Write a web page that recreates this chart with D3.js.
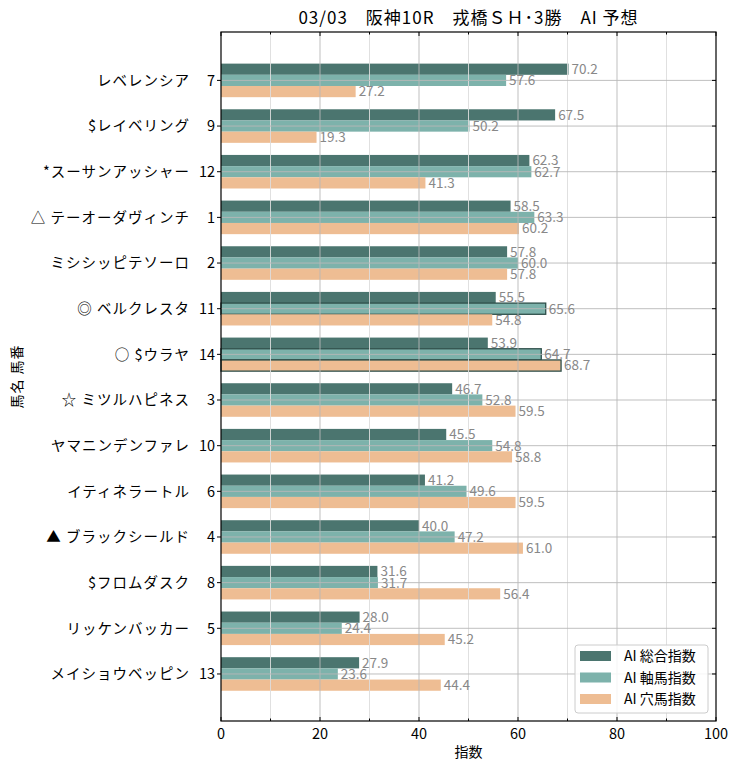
<!DOCTYPE html>
<html><head><meta charset="utf-8">
<script src="https://cdn.jsdelivr.net/npm/d3@7"></script>
<style>body{margin:0;background:#fff}</style>
</head><body>
<script>
const names = ["レベレンシア","$レイベリング","*スーサンアッシャー","△ テーオーダヴィンチ","ミシシッピテソーロ","◎ ベルクレスタ","○ $ウラヤ","☆ ミツルハピネス","ヤマニンデンファレ","イティネラートル","▲ ブラックシールド","$フロムダスク","リッケンバッカー","メイショウベッピン"];
const numbers = ["7","9","12","1","2","11","14","3","10","6","4","8","5","13"];
const sogo = [70.2,67.5,62.3,58.5,57.8,55.5,53.9,46.7,45.5,41.2,40.0,31.6,28.0,27.9];
const jiku = [57.6,50.2,62.7,63.3,60.0,65.6,64.7,52.8,54.8,49.6,47.2,31.7,24.4,23.6];
const ana  = [27.2,19.3,41.3,60.2,57.8,54.8,68.7,59.5,58.8,59.5,61.0,56.4,45.2,44.4];
const jikuOutline = [false,false,false,false,false,true,true,false,false,false,false,false,false,false];
const anaOutline  = [false,false,false,false,false,false,true,false,false,false,false,false,false,false];
const seriesNames = ["AI 総合指数","AI 軸馬指数","AI 穴馬指数"];
const xTicks = [0,20,40,60,80,100];
const title = "03/03　阪神10R　戎橋ＳＨ･3勝　AI 予想";

const W=740,H=770;
const L=221,R=716,T=32,B=721;
const colors=["#4b756f","#7db2ab","#eebd93"];
const font="'Noto Sans CJK JP','Noto Sans',sans-serif";

const svg=d3.select("body").append("svg").attr("width",W).attr("height",H).style("font-family",font);
const x=d3.scaleLinear().domain([0,100]).range([L,R]);
const y=d3.scaleLinear().domain([-1.06,14.03]).range([T,B]);
const bh=0.245;

const series=[sogo,jiku,ana];
const outlines=[names.map(()=>false),jikuOutline,anaOutline];

// bars
series.forEach((vals,s)=>{
  svg.append("g").selectAll("rect").data(vals).join("rect")
    .attr("x",x(0))
    .attr("y",(d,i)=>y(i+(s-1.5)*bh))
    .attr("width",d=>x(d)-x(0))
    .attr("height",y(bh)-y(0))
    .attr("fill",colors[s])
    .attr("stroke",(d,i)=>outlines[s][i]?"#2e4f4a":"none")
    .attr("stroke-width",1.3);
});

// grid on top
const g=svg.append("g");
d3.range(10,100,20).forEach(v=>{
  g.append("line").attr("x1",x(v)).attr("x2",x(v)).attr("y1",T).attr("y2",B).attr("stroke","#dcdcdc").attr("stroke-width",0.9);
});
[20,40,60,80].forEach(v=>{
  g.append("line").attr("x1",x(v)).attr("x2",x(v)).attr("y1",T).attr("y2",B).attr("stroke","#b8b8b8").attr("stroke-width",0.9);
});
names.forEach((n,i)=>{
  g.append("line").attr("x1",L).attr("x2",R).attr("y1",y(i)).attr("y2",y(i)).attr("stroke","#b8b8b8").attr("stroke-width",0.9);
});

// value labels
series.forEach((vals,s)=>{
  svg.append("g").selectAll("text").data(vals).join("text")
    .attr("x",d=>x(d)+3)
    .attr("y",(d,i)=>y(i+(s-1)*bh))
    .attr("dy","0.36em")
    .attr("font-size",13.5)
    .attr("fill","#888")
    .text(d=>d.toFixed(1));
});

// frame
svg.append("rect").attr("x",L).attr("y",T).attr("width",R-L).attr("height",B-T).attr("fill","none").attr("stroke","#000").attr("stroke-width",1.2);

// x ticks (in), top and bottom
const minor=d3.range(10,100,20);
xTicks.forEach(v=>{
  svg.append("line").attr("x1",x(v)).attr("x2",x(v)).attr("y1",B).attr("y2",B-4).attr("stroke","#000");
  svg.append("line").attr("x1",x(v)).attr("x2",x(v)).attr("y1",T).attr("y2",T+4).attr("stroke","#000");
  svg.append("text").attr("x",x(v)).attr("y",B+18).attr("text-anchor","middle").attr("font-size",14.5).attr("fill","#000").text(v);
});
minor.forEach(v=>{
  svg.append("line").attr("x1",x(v)).attr("x2",x(v)).attr("y1",B).attr("y2",B-2.5).attr("stroke","#000");
  svg.append("line").attr("x1",x(v)).attr("x2",x(v)).attr("y1",T).attr("y2",T+2.5).attr("stroke","#000");
});

// y ticks and labels
names.forEach((n,i)=>{
  svg.append("line").attr("x1",L).attr("x2",L-4).attr("y1",y(i)).attr("y2",y(i)).attr("stroke","#000");
  svg.append("line").attr("x1",R).attr("x2",R-4).attr("y1",y(i)).attr("y2",y(i)).attr("stroke","#000");
  svg.append("text").attr("x",190).attr("y",y(i)).attr("dy","0.36em").attr("text-anchor","end").attr("font-size",14.5).attr("letter-spacing",1).attr("fill","#000").text(n);
  svg.append("text").attr("x",215).attr("y",y(i)).attr("dy","0.36em").attr("text-anchor","end").attr("font-size",14.5).attr("fill","#000").text(numbers[i]);
});

// axis titles
svg.append("text").attr("x",(L+R)/2).attr("y",757).attr("text-anchor","middle").attr("font-size",14).text("指数");
svg.append("text").attr("transform",`translate(22,${(T+B)/2}) rotate(-90)`).attr("text-anchor","middle").attr("font-size",14).attr("letter-spacing",1).text("馬名 馬番");
svg.append("text").attr("x",(L+R)/2).attr("y",24).attr("text-anchor","middle").attr("font-size",17).attr("letter-spacing",1).text(title);

// legend
const lg=svg.append("g");
lg.append("rect").attr("x",575).attr("y",645).attr("width",133).attr("height",68).attr("rx",3)
  .attr("fill","#fff").attr("fill-opacity",0.85).attr("stroke","#cccccc");
seriesNames.forEach((n,s)=>{
  const cy=656+s*21.5;
  lg.append("rect").attr("x",580).attr("y",cy-5).attr("width",31).attr("height",10).attr("fill",colors[s]);
  lg.append("text").attr("x",624).attr("y",cy).attr("dy","0.36em").attr("font-size",14).text(n);
});
</script>
</body></html>
